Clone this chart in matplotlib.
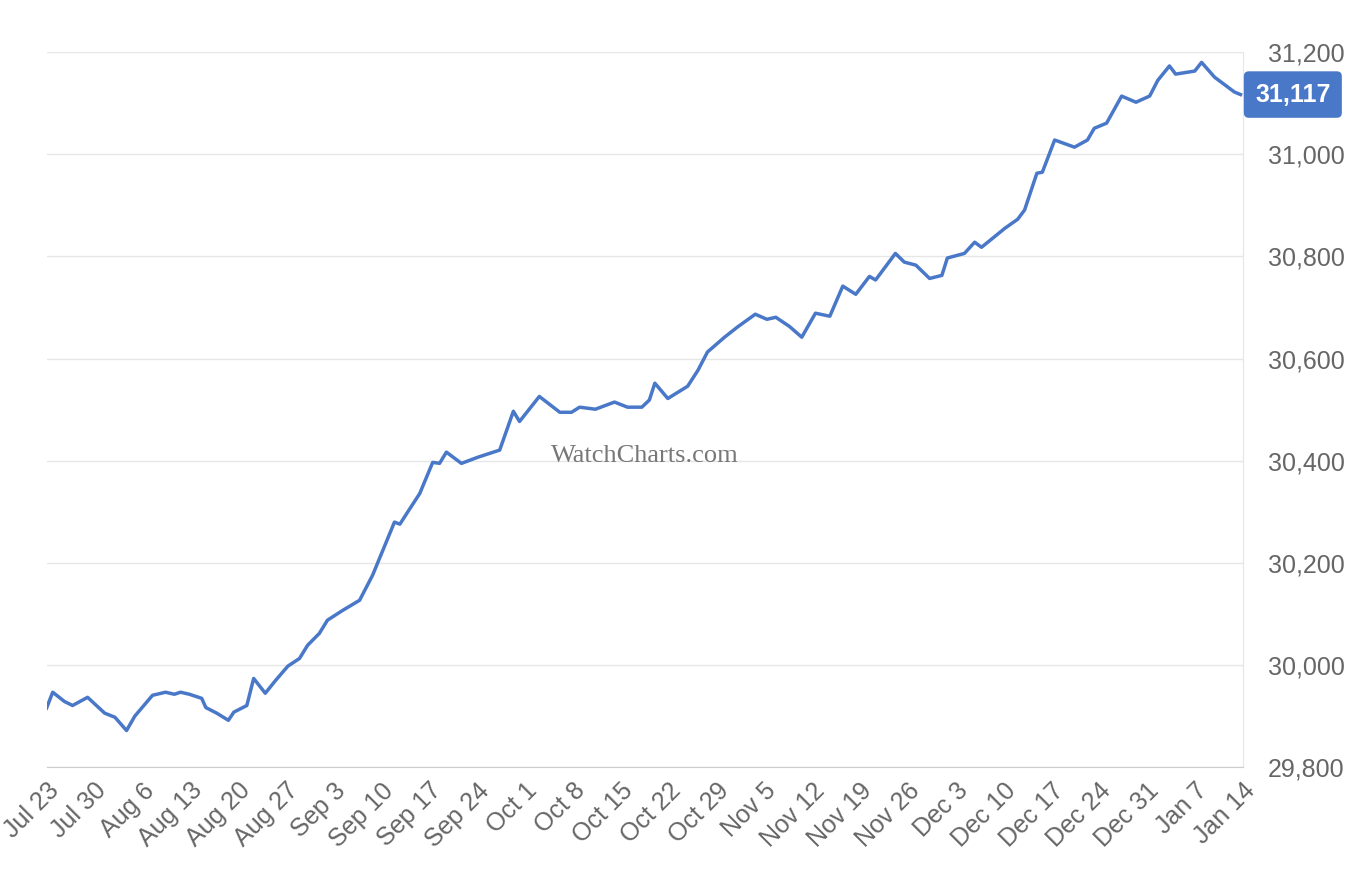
import datetime as dt
import matplotlib.pyplot as plt
from matplotlib.ticker import FuncFormatter

plt.rcParams['font.family'] = ['Liberation Sans', 'DejaVu Sans']

start = dt.datetime(2023, 7, 23)
day_offsets = [0, 0.9, 2.6, 3.8, 6, 8.5, 10, 11.7, 12.9, 15.5, 17.4, 18.7, 19.6, 20.9, 22.7, 23.3,
               24.9, 26.6, 27.4, 29.3, 30.3, 32, 33.5, 35.3, 37, 38.2, 39.9, 41.1, 43.3, 45.8, 47.7,
               48.9, 50.9, 51.7, 52.8, 54.6, 56.5, 57.5, 58.5, 60.7, 63.1, 66.3, 68.3, 69.2, 72.1,
               75.1, 76.8, 78, 80.3, 83.1, 85, 87.1, 88.2, 89, 90.9, 93.8, 95.3, 96.7, 99.2, 101.1,
               103.7, 105.4, 106.7, 108.7, 110.5, 112.5, 114.6, 116.5, 118.4, 120.4, 121.3, 124.2,
               125.5, 127.2, 129.2, 131, 131.8, 134.3, 135.8, 136.8, 140.2, 142.1, 143.1, 144.9,
               145.7, 147.5, 150.4, 152.3, 153.3, 155.1, 157.3, 159.4, 161.4, 162.6, 164.3, 165.2,
               168, 169, 170.9, 173.8, 174.7]
prices = [29916, 29947, 29929, 29921, 29937, 29906, 29898, 29872, 29900, 29941, 29947, 29943,
          29947, 29943, 29935, 29917, 29906, 29892, 29908, 29921, 29974, 29945, 29970, 29998,
          30013, 30039, 30062, 30088, 30107, 30127, 30176, 30215, 30280, 30276, 30299, 30336,
          30397, 30395, 30417, 30395, 30407, 30421, 30497, 30477, 30526, 30495, 30495, 30505,
          30501, 30515, 30505, 30505, 30519, 30552, 30522, 30546, 30577, 30613, 30642, 30662,
          30687, 30677, 30681, 30663, 30642, 30689, 30683, 30742, 30726, 30761, 30754, 30806,
          30789, 30783, 30757, 30763, 30797, 30806, 30828, 30818, 30855, 30873, 30891, 30963,
          30965, 31028, 31014, 31028, 31051, 31061, 31114, 31102, 31114, 31145, 31173, 31157,
          31163, 31180, 31151, 31122, 31117]
last_price = 31117

dates = [start + dt.timedelta(days=d) for d in day_offsets]
tick_dates = [start + dt.timedelta(days=7 * i) for i in range(26)]

fig = plt.figure(figsize=(13.7, 8.84), dpi=100)
ax = fig.add_axes([0.034, 0.132, 0.873, 0.809])
color = '#4a78c8'
ax.plot(dates, prices, color=color, lw=2.5)

ax.set_xlim(start, start + dt.timedelta(days=175))
ax.set_ylim(29800, 31200)
ax.yaxis.tick_right()
ax.set_yticks(range(29800, 31201, 200))
ax.yaxis.set_major_formatter(FuncFormatter(lambda v, p: f'{int(v):,}'))
ax.set_xticks(tick_dates)
ax.set_xticklabels([d.strftime('%b ') + str(d.day) for d in tick_dates],
                   rotation=45, ha='right', rotation_mode='anchor')
ax.tick_params(axis='both', labelsize=18, labelcolor='#666666', length=0)
ax.tick_params(axis='x', pad=8)
ax.tick_params(axis='y', pad=18)
ax.grid(axis='y', color='#e6e6e6', lw=1)
for s in ['top', 'left']:
    ax.spines[s].set_visible(False)
ax.spines['bottom'].set_color('#cccccc')
ax.spines['right'].set_color('#e6e6e6')

ax.text(0.5, 0.435, 'WatchCharts.com', transform=ax.transAxes, ha='center', va='center',
        fontsize=19, family='Liberation Serif', color='#777777')
ax.annotate(f'{last_price:,}', xy=(1.0, (last_price - 29800) / 1400), xycoords='axes fraction',
            xytext=(9, 0), textcoords='offset points', ha='left', va='center',
            fontsize=18, fontweight='bold', color='white',
            bbox=dict(boxstyle='round,pad=0.45,rounding_size=0.2', fc='#4a78c8', ec='none'))

fig.savefig('out.png')
